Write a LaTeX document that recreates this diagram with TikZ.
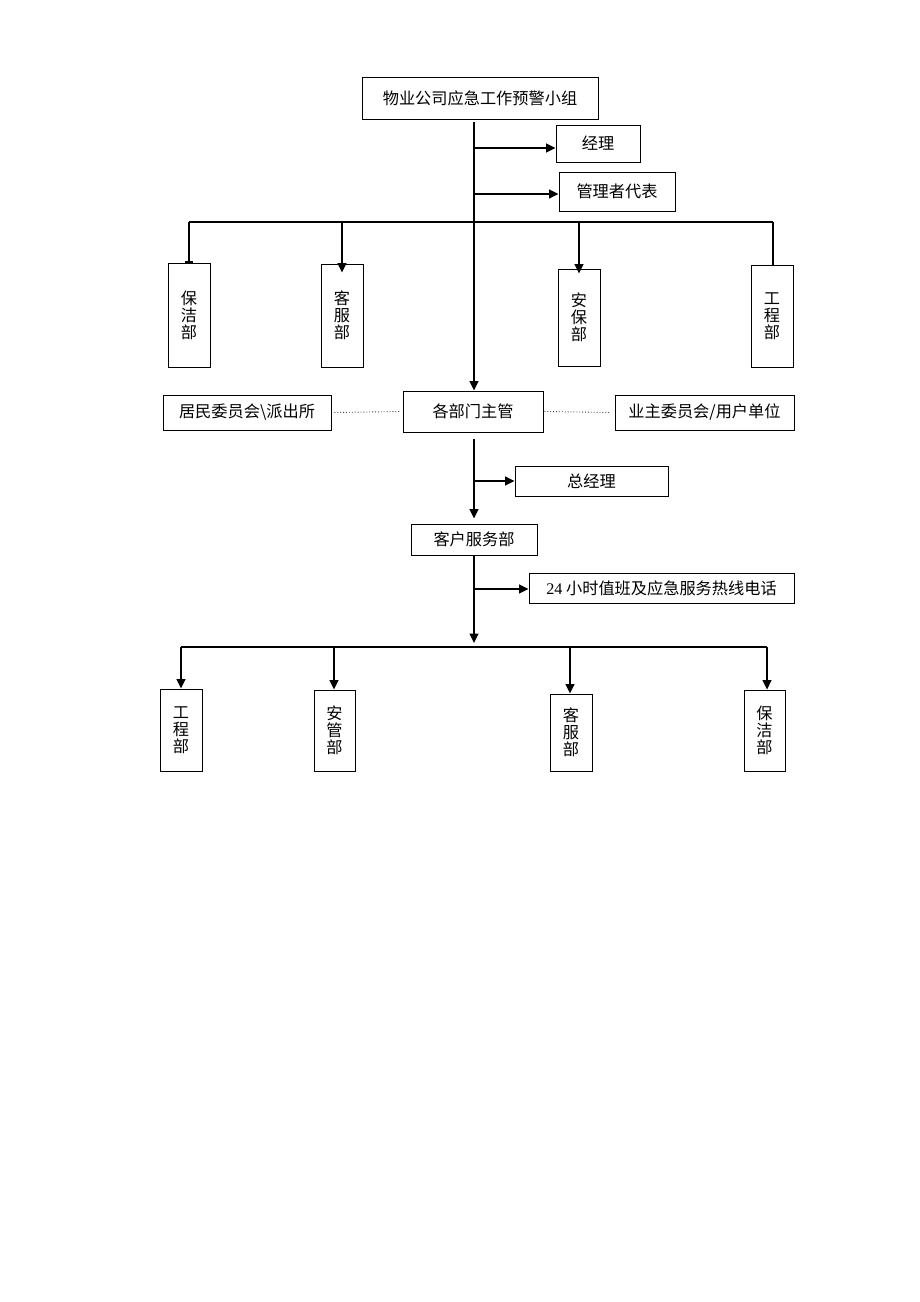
\documentclass[tikz,border=0pt]{standalone}
\usepackage{fontspec}
\setmainfont{Liberation Serif}
\newfontfamily\cjk{Noto Sans CJK SC}
\usetikzlibrary{arrows.meta}
\begin{document}
\begin{tikzpicture}[x=1pt,y=-1pt,
  box/.style={draw=black,line width=0.9pt,inner sep=0pt,font=\cjk\fontsize{16.2}{17}\selectfont,align=center},
  vbox/.style={box,minimum width=42pt},
  conn/.style={line width=1.5pt},
  arr/.style={conn,-{Triangle[length=9.5pt,width=9pt]}},
  dots/.style={line width=0.9pt,dotted,black!75}]
\useasboundingbox[fill=white] (0,0) rectangle (920,1302);
% boxes
\node[box,minimum width=236pt,minimum height=42pt] (top) at (480,98) {物业公司应急工作预警小组};
\node[box,minimum width=84pt,minimum height=37pt] (jl) at (598,143.5) {经理};
\node[box,minimum width=116pt,minimum height=39pt] (gl) at (617,191.5) {管理者代表};
\node[vbox,minimum height=104pt] (bj1) at (189,315) {保\\洁\\部};
\node[vbox,minimum height=103pt] (kf1) at (342,315.5) {客\\服\\部};
\node[vbox,minimum height=97pt] (ab1) at (579,317.5) {安\\保\\部};
\node[vbox,minimum height=102pt] (gc1) at (772,316) {工\\程\\部};
\node[box,minimum width=168pt,minimum height=35pt] (jm) at (247,412.5) {居民委员会\textbackslash 派出所};
\node[box,minimum width=140pt,minimum height=41pt] (gb) at (473,411.5) {各部门主管};
\node[box,minimum width=179pt,minimum height=35pt] (yz) at (704.5,412.5) {业主委员会/用户单位};
\node[box,minimum width=153pt,minimum height=30pt] (zj) at (591.5,481) {总经理};
\node[box,minimum width=126pt,minimum height=31pt] (kh) at (474,539.5) {客户服务部};
\node[box,minimum width=265pt,minimum height=30pt] (rx) at (661.5,588) {{\rmfamily 24} 小时值班及应急服务热线电话};
\node[vbox,minimum height=82pt] (gc2) at (181,730) {工\\程\\部};
\node[vbox,minimum height=81pt,minimum width=41pt] (ag2) at (334.5,730.5) {安\\管\\部};
\node[vbox,minimum height=77pt] (kf2) at (571,732.5) {客\\服\\部};
\node[vbox,minimum height=81pt,minimum width=41pt] (bj2) at (764.5,730.5) {保\\洁\\部};
% coordinates
\coordinate (t0) at (474,122);
\coordinate (h1) at (474,222);
\coordinate (h2) at (474,647);
\coordinate (a1) at (474,148);
\coordinate (a2) at (474,194);
\coordinate (a3) at (474,589);
\coordinate (d1) at (181,647);
\coordinate (d2) at (334,647);
\coordinate (d3) at (570,647);
\coordinate (d4) at (767,647);
% main trunk
\draw[arr] (t0) -- (gb.north -| t0);
\draw[arr] (a1) -- (jl.west |- a1);
\draw[arr] (a2) -- (gl.west |- a2);
% upper bar
\draw[conn] (bj1.north |- h1) -- (h1) -- (773,222);
\draw[conn,-{Rectangle[length=2pt,width=8pt]}] (bj1.north |- h1) -- (bj1.north);
\draw[arr] (kf1.north |- h1) -- ([yshift=-9pt]kf1.north);
\draw[arr] (ab1.north |- h1) -- ([yshift=-5pt]ab1.north);
\draw[conn] (773,222) -- (773,265);
% dotted links
\draw[dots] ([xshift=3pt]jm.east) -- ([xshift=-3pt]gb.west);
\draw[dots] ([xshift=1pt]gb.east) -- ([xshift=-4pt]yz.west);
% lower trunk
\draw[arr] ([yshift=-7pt]gb.south -| t0) -- ([yshift=5pt]kh.north);
\draw[arr] (t0 |- zj) -- (zj.west);
\draw[arr] (kh.south) -- ([yshift=4pt]h2);
\draw[arr] (a3) -- (rx.west |- a3);
% lower bar
\draw[conn] (d1) -- (d4);
\draw[arr] (d1) -- (gc2.north -| d1);
\draw[arr] (d2) -- (ag2.north -| d2);
\draw[arr] (d3) -- (kf2.north -| d3);
\draw[arr] (d4) -- (bj2.north -| d4);
\end{tikzpicture}
\end{document}
